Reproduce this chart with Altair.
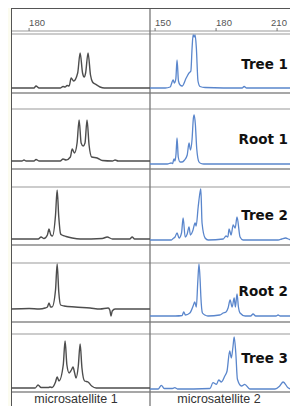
import altair as alt
import pandas as pd

# ---------------- data ----------------
samples = ["Tree 1", "Root 1", "Tree 2", "Root 2", "Tree 3"]
markers = ["microsatellite 1", "microsatellite 2"]
ticks_m1 = [180]
ticks_m2 = [150, 180, 210]

# microsatellite 1 traces: fragment size (bp) and signal
m1_tree1_x = [171.1, 180.5, 182.4, 183.4, 184.9, 195.3, 196.7, 197.7, 198.7, 199.7, 200.7, 201.9, 203.9, 205.1, 206.3, 207.1, 207.8, 209.0, 210.2, 211.2, 212.5, 214.9, 217.0, 239.5]
m1_tree1_y = [5, 5, 5, 7, 5, 5, 6.5, 6, 7.5, 7, 15, 12, 20, 40, 20, 16, 20, 40, 18, 11, 9, 6, 5, 5]
m1_root1_x = [171.1, 176.5, 177.5, 178.5, 182.4, 183.4, 185.0, 195.3, 196.7, 198.2, 200.3, 201.2, 202.3, 203.6, 204.6, 205.6, 206.6, 207.5, 208.5, 209.5, 210.8, 213.5, 216.0, 221.0, 222.3, 223.8, 239.5]
m1_root1_y = [8, 8, 9, 8, 8, 9.5, 8, 8, 10, 9, 12, 20, 16, 26, 49, 26, 23, 26, 49, 24, 12, 11, 8.5, 8, 9, 8, 8]
m1_tree2_x = [171.1, 184.5, 185.9, 187.3, 189.0, 189.8, 190.7, 191.5, 193.0, 193.8, 194.6, 195.5, 196.2, 198.2, 201.2, 205.1, 216.0, 218.4, 221.0, 229.5, 230.7, 231.9, 239.5]
m1_tree2_y = [6, 6, 8, 6.5, 10, 16, 10, 9, 30, 55, 28, 11, 10, 8.5, 7, 6, 6.5, 8, 6, 6, 8, 6, 6]
m1_root2_x = [171.1, 180.0, 185.0, 187.9, 189.0, 189.8, 190.6, 191.3, 193.0, 193.8, 194.6, 195.5, 197.2, 202.6, 210.0, 214.9, 218.9, 219.7, 220.3, 220.9, 222.3, 239.5]
m1_root2_y = [13, 13.5, 13, 14, 15, 19, 15, 15, 32, 58, 30, 17, 16, 15, 14, 13, 14, 12, 6, 11, 13, 13]
m1_tree3_x = [171.1, 183.0, 184.4, 185.9, 189.5, 190.3, 191.3, 193.0, 193.8, 194.7, 196.8, 197.7, 198.6, 199.7, 200.8, 201.6, 202.4, 203.1, 204.2, 205.1, 206.0, 207.3, 209.0, 210.8, 213.0, 239.5]
m1_tree3_y = [4, 4, 7, 4.5, 4.5, 5, 4.5, 10, 15, 11, 27, 51, 27, 19, 22, 25, 19, 14, 26, 48, 24, 11, 10, 6, 4, 4]

# microsatellite 2 traces
m2_tree1_x = [147.5, 155.0, 157.4, 158.9, 159.5, 160.2, 160.8, 161.5, 162.3, 163.3, 165.3, 166.7, 167.6, 168.2, 168.7, 169.2, 169.7, 170.3, 171.1, 172.1, 174.6, 192.8, 193.8, 195.0, 216.4, 217.4, 218.4, 220.3]
m2_tree1_y = [5, 5, 6, 13, 10, 14, 33, 12, 8, 7, 15, 20, 22, 45, 58, 56, 58, 45, 12, 6.5, 5.5, 5, 6.5, 5, 5, 8, 5, 5]
m2_root1_x = [147.5, 156.0, 157.9, 158.6, 159.3, 159.8, 160.3, 160.8, 161.4, 162.3, 163.3, 164.5, 165.8, 166.7, 167.4, 168.2, 168.8, 169.2, 169.8, 170.5, 171.6, 172.6, 174.0, 220.3]
m2_root1_y = [5, 5, 6, 5.5, 10, 8, 15, 31, 12, 7, 7, 9, 14, 26, 19, 30, 50, 54, 45, 20, 7, 5.5, 5, 5]
m2_tree2_x = [147.5, 158.0, 158.9, 159.8, 160.8, 161.8, 163.0, 163.8, 164.8, 165.8, 166.7, 167.4, 168.5, 169.7, 170.2, 171.2, 171.9, 172.5, 173.1, 174.6, 176.1, 183.5, 184.9, 185.8, 186.4, 187.4, 188.4, 189.4, 190.3, 191.8, 193.3, 210.5, 212.3, 214.2, 216.2, 220.3]
m2_tree2_y = [5, 5, 6.5, 8, 12, 7, 12, 27, 8, 11, 18, 10, 14, 22, 19, 38, 50, 56, 22, 7, 5, 6, 9, 8, 16, 10, 20, 17, 28, 8, 5, 5, 6, 7, 5.5, 5]
m2_root2_x = [147.5, 160.0, 163.3, 164.1, 164.9, 167.1, 168.7, 169.5, 170.3, 171.0, 171.6, 172.2, 172.5, 173.3, 174.5, 176.0, 181.8, 183.5, 184.9, 185.9, 186.9, 187.9, 188.9, 189.5, 190.3, 191.0, 191.8, 194.3, 197.0, 198.2, 199.5, 209.5, 210.5, 211.5, 220.3]
m2_root2_y = [6, 6, 6.5, 10, 7, 9, 16, 20, 15, 40, 58, 40, 26, 9, 7, 6, 7, 9, 10, 14, 22, 15, 24, 15, 28, 15, 9, 6, 6, 8, 6, 6, 7, 6, 6]
m2_tree3_x = [147.5, 151.5, 153.1, 154.5, 158.5, 159.7, 161.0, 177.0, 178.5, 180.2, 181.3, 182.6, 184.3, 185.4, 186.7, 187.5, 188.3, 188.9, 189.7, 190.5, 192.5, 194.1, 196.6, 209.0, 211.3, 213.0, 215.4, 217.0, 220.3]
m2_tree3_y = [3, 3, 6.7, 3.5, 3.5, 4.3, 3, 3.5, 9.3, 7.7, 12, 10, 16, 21, 41, 34, 45, 55, 39, 12.7, 6, 7.7, 3, 3, 6, 10, 4.3, 3, 3]

m1_traces = [(m1_tree1_x, m1_tree1_y), (m1_root1_x, m1_root1_y), (m1_tree2_x, m1_tree2_y),
             (m1_root2_x, m1_root2_y), (m1_tree3_x, m1_tree3_y)]
m2_traces = [(m2_tree1_x, m2_tree1_y), (m2_root1_x, m2_root1_y), (m2_tree2_x, m2_tree2_y),
             (m2_root2_x, m2_root2_y), (m2_tree3_x, m2_tree3_y)]

# ---------------- layout ----------------
PAD_L = 3
W = 279                  # plot width (both panels)
H = 398                  # plot height
W1 = 139                 # left panel width (px)
PXBP = 2.033             # px per bp
dom1 = [171.1, 171.1 + W / PXBP]
dom2 = [147.5 - W1 / PXBP, 147.5 + (W - W1) / PXBP]
row_top = [26, 101, 179, 255, 326]
row_bottom = [85, 161, 237, 314, 384]
label_y = [57, 132, 208, 284, 351]
axis_y = 23
edge_label_shift = -6    # nudge for a tick label that would run past the right edge


def trace_table(traces):
    recs = []
    for s, (xs, ys), base in zip(samples, traces, row_bottom):
        for i, (x, y) in enumerate(zip(xs, ys)):
            recs.append({"sample": s, "i": i, "size": x, "y": base - y})
    return pd.DataFrame(recs)


yscale = alt.Scale(domain=[0, H], reverse=True, nice=False, zero=False)


def panel(traces, dom, ticks, color, lw):
    xscale = alt.Scale(domain=dom, nice=False, zero=False)
    lines = alt.Chart(trace_table(traces)).mark_line(
        color=color, strokeWidth=lw, interpolate="monotone", clip=True
    ).encode(x=alt.X("size:Q", scale=xscale, axis=None),
             y=alt.Y("y:Q", scale=yscale, axis=None),
             detail="sample:N", order="i:Q")
    tdf = pd.DataFrame({"size": ticks, "t": [str(t) for t in ticks]})
    tick_marks = alt.Chart(tdf).mark_rule(color="#777777", strokeWidth=1).encode(
        x=alt.X("size:Q", scale=xscale, axis=None),
        y=alt.value(axis_y - 3), y2=alt.value(axis_y))
    # labels that would run past the panel edge are nudged left
    limit = dom[1] - 17 / PXBP
    layers = [tick_marks]
    for part, dx in ((tdf[tdf["size"] <= limit], 0), (tdf[tdf["size"] > limit], edge_label_shift)):
        if len(part):
            layers.append(alt.Chart(part).mark_text(
                font="Liberation Sans", fontSize=9.5, color="#555555", align="left",
                baseline="alphabetic", dx=dx
            ).encode(x=alt.X("size:Q", scale=xscale, axis=None),
                     y=alt.value(axis_y - 5), text="t:N"))
    layers.append(lines)
    return alt.layer(*layers)


left = panel(m1_traces, dom1, ticks_m1, "#4d4d4d", 1.4)
right = panel(m2_traces, dom2, ticks_m2, "#5a86cc", 1.3)

tops = alt.Chart(pd.DataFrame({"y": row_top + [axis_y]})).mark_rule(
    color="#9a9a9a", strokeWidth=1.2
).encode(y=alt.Y("y:Q", scale=yscale, axis=None), x=alt.value(0), x2=alt.value(W))
bots = alt.Chart(pd.DataFrame({"y": row_bottom})).mark_rule(
    color="#8a8a8a", strokeWidth=1.7
).encode(y=alt.Y("y:Q", scale=yscale, axis=None), x=alt.value(0), x2=alt.value(W))
divider = alt.Chart(pd.DataFrame({"y": [0]})).mark_rule(
    color="#777777", strokeWidth=1.3
).encode(x=alt.value(W1), y=alt.value(0), y2=alt.value(H))
left_border = alt.Chart(pd.DataFrame({"y": [0]})).mark_rule(
    color="#555555", strokeWidth=1
).encode(x=alt.value(0.5), y=alt.value(0), y2=alt.value(H))
top_border = alt.Chart(pd.DataFrame({"y": [0]})).mark_rule(
    color="#555555", strokeWidth=1
).encode(y=alt.value(0.5), x=alt.value(0), x2=alt.value(W))

cap = alt.Chart(pd.DataFrame({"t": markers, "cx": [65, W1 + 69]})).mark_text(
    font="Liberation Sans", fontSize=12.5, color="#333333", align="center",
    baseline="alphabetic"
).encode(text="t:N", x=alt.X("cx:Q", scale=alt.Scale(domain=[0, W], nice=False, zero=False), axis=None),
         y=alt.value(H - 2.8))

lab = alt.Chart(pd.DataFrame({"sample": samples, "y": label_y})).mark_text(
    font="DejaVu Sans", fontSize=13.5, fontWeight="bold", color="#111111",
    align="right", baseline="middle"
).encode(text="sample:N", y=alt.Y("y:Q", scale=yscale, axis=None), x=alt.value(W - 2))

chart = alt.layer(tops, bots, divider, left_border, top_border, left, right, cap, lab).resolve_scale(
    x="independent"
).properties(
    width=W, height=H,
    autosize=alt.AutoSizeParams(type="none"),
    padding={"left": PAD_L, "top": 0, "right": 0, "bottom": 0},
    background="#fcfcf0",
).configure_view(stroke=None, fill="white")

chart.save("out.html", embed_options={"renderer": "svg", "actions": False})
